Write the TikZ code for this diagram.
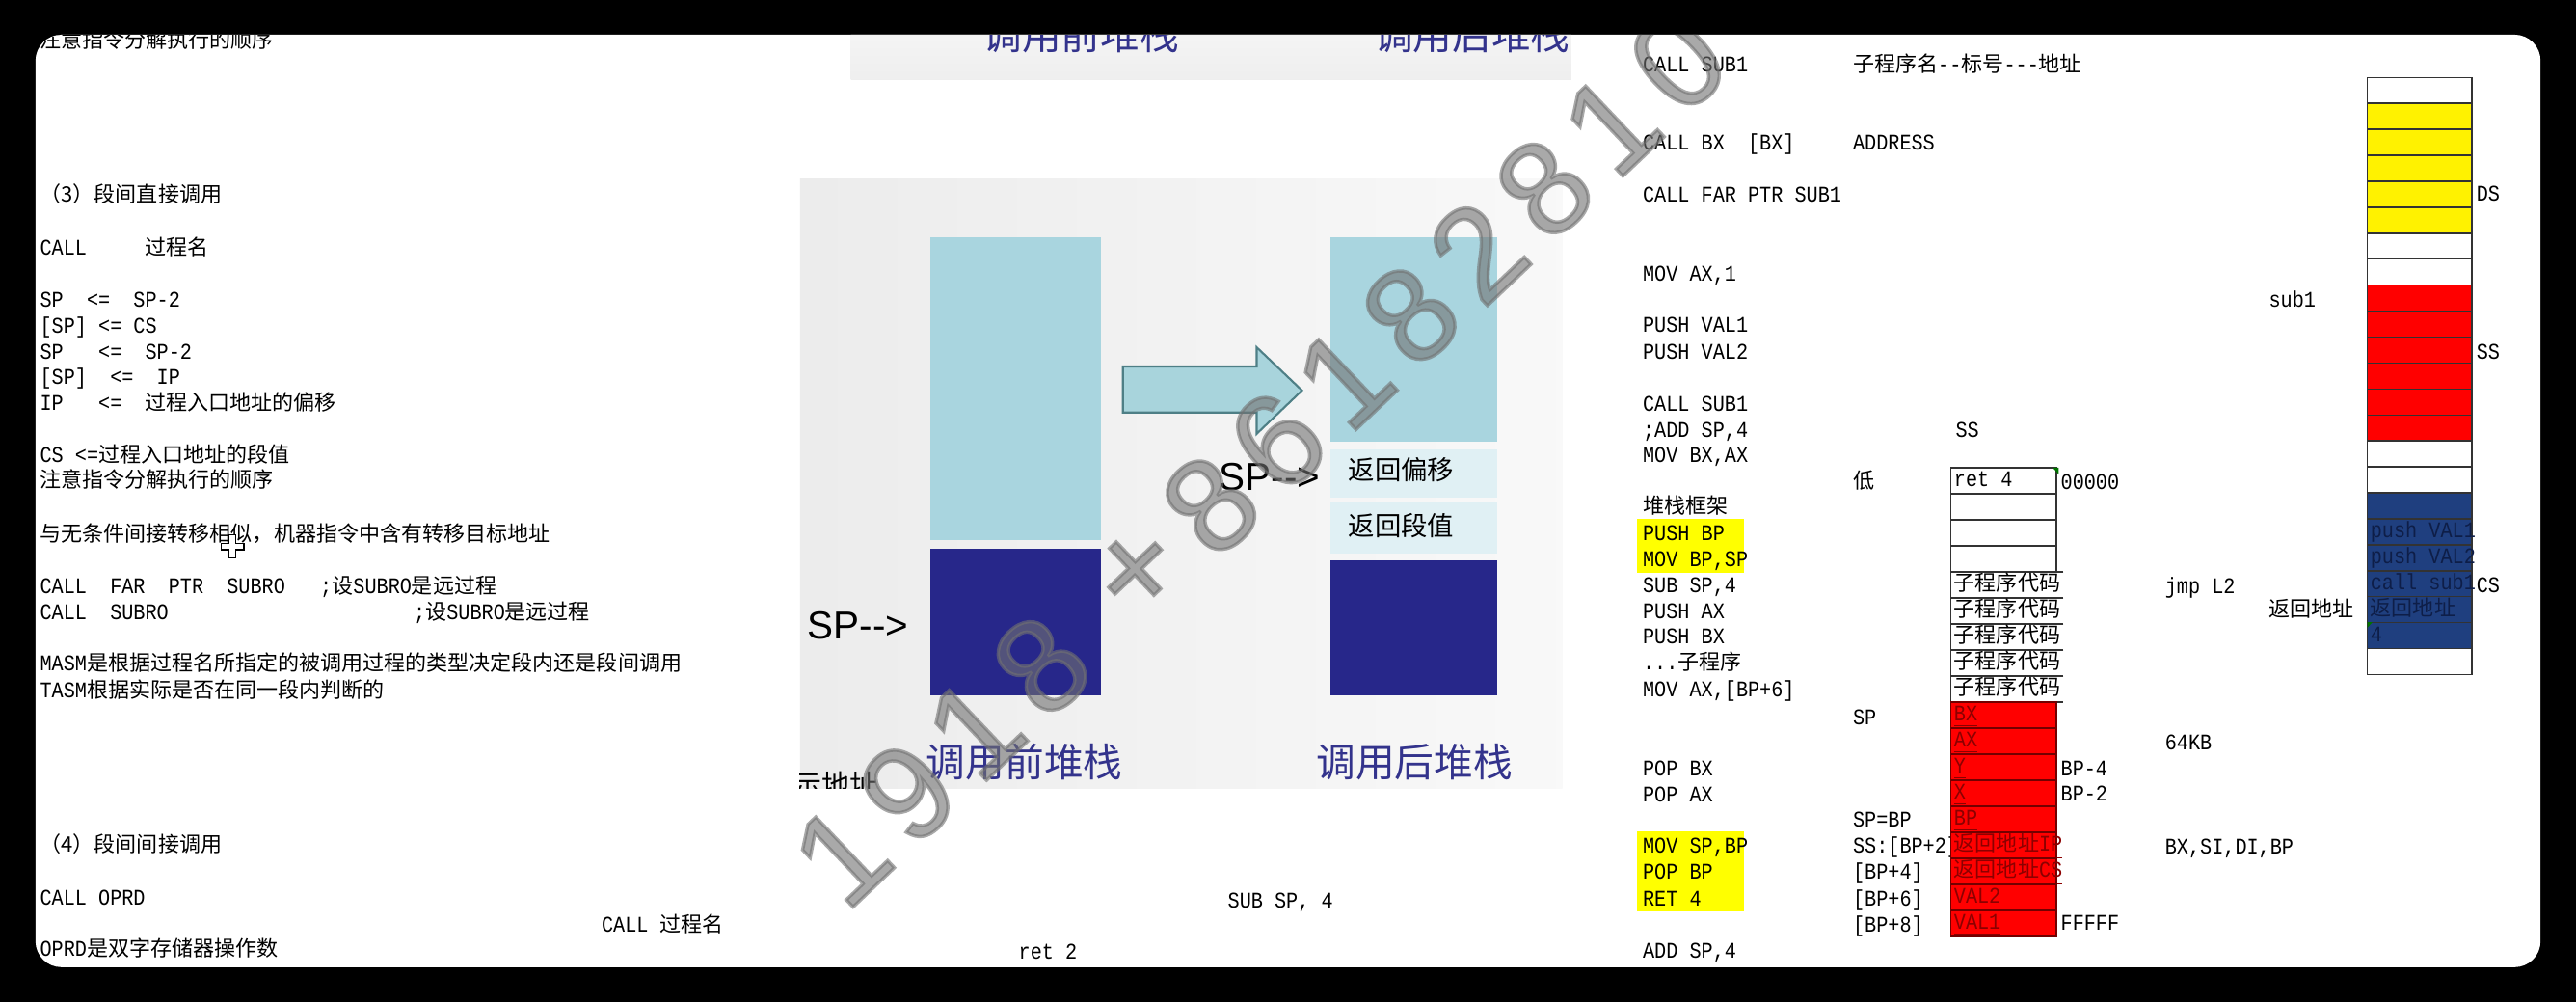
\documentclass[tikz,border=0pt]{standalone}
\usepackage{fontspec}
\setmonofont[FakeStretch=0.87]{Liberation Mono}
\newfontfamily\cjk[Scale=0.95]{Noto Sans CJK SC}
\newfontfamily\arialfont{Liberation Sans}
\newfontfamily\wmfont[FakeBold=2.5]{Liberation Sans}
\newcommand\zh[1]{{\cjk #1}}
\definecolor{lightbar}{HTML}{A9D5DF}
\definecolor{deepbar}{HTML}{27278A}
\definecolor{slotcyan}{HTML}{E0F0F4}
\definecolor{titleblue}{HTML}{33338C}
\definecolor{hiyellow}{HTML}{FFFF00}
\definecolor{cellyellow}{HTML}{FFF200}
\definecolor{cellred}{HTML}{FF0000}
\definecolor{cellnavy}{HTML}{1F3F7F}
\definecolor{navytext}{HTML}{0E1E48}
\definecolor{redtext}{HTML}{8C0000}
\definecolor{wmgray}{HTML}{717171}
\definecolor{arrowfill}{HTML}{A8D4DC}
\definecolor{arrowedge}{HTML}{4E7F86}

\begin{document}
\begin{tikzpicture}[x=0.1704mm, y=-0.1704mm,
  code/.style={font=\ttfamily\fontsize{6.6}{7.6}\selectfont, inner sep=0pt, anchor=west, text height=4.6pt, text depth=1.2pt},
  title/.style={font=\cjk\fontsize{12.2}{14}\selectfont, text=titleblue, inner sep=0pt, anchor=base},
  sptag/.style={font=\arialfont\fontsize{11.5}{13}\selectfont, inner sep=0pt, anchor=west},
  slot/.style={font=\cjk\fontsize{8.2}{9.5}\selectfont, inner sep=0pt, anchor=west},
  cellline/.style={draw=black!80, line width=0.4pt},
  wm/.style={font=\wmfont\fontsize{39}{44}\selectfont, text=wmgray, opacity=0.6, inner sep=0pt}
]
  \useasboundingbox (0,0) rectangle (1568,610);
  \fill[black] (0,0) rectangle (1568,610);
  \fill[white, rounded corners=2.7mm] (21.6,21.1) rectangle (1546.4,588.5);
  \begin{scope}
  \clip[rounded corners=2.7mm] (21.6,21.1) rectangle (1546.4,588.5);

  \node[code] (l1) at (24,25.4) {\zh{注意指令分解执行的顺序}};
  \node[code] (l2) at (24,119.3) {\zh{（3）段间直接调用}};
  \node[code] (l3) at (24,151.6) {CALL~~~~~\zh{过程名}};
  \node[code] (l4) at (24,183.5) {SP~~<=~~SP-2};
  \node[code] (l5) at (24,199.1) {[SP]~<=~CS};
  \node[code] (l6) at (24,214.8) {SP~~~<=~~SP-2};
  \node[code] (l7) at (24,230.4) {[SP]~~<=~~IP};
  \node[code] (l8) at (24,246.1) {IP~~~<=~~\zh{过程入口地址的偏移}};
  \node[code] (l9) at (24,277.8) {CS~<=\zh{过程入口地址的段值}};
  \node[code] (l10) at (24,293.4) {\zh{注意指令分解执行的顺序}};
  \node[code] (l11) at (24,325.8) {\zh{与无条件间接转移相似，机器指令中含有转移目标地址}};
  \filldraw[fill=white, draw=black, line width=0.35pt] (139.5,325.5) -- (143.5,325.5) -- (143.5,330.5) -- (148.5,330.5) -- (148.5,334.5) -- (143.5,334.5) -- (143.5,339.5) -- (139.5,339.5) -- (139.5,334.5) -- (134.5,334.5) -- (134.5,330.5) -- (139.5,330.5) -- cycle;
  \node[code] (l12) at (24,357.8) {CALL~~FAR~~PTR~~SUBRO~~~;\zh{设}SUBRO\zh{是远过程}};
  \node[code] (l13) at (24,373.3) {CALL~~SUBRO~~~~~~~~~~~~~~~~~~~~~;\zh{设}SUBRO\zh{是远过程}};
  \node[code] (l14) at (24,404.8) {MASM\zh{是根据过程名所指定的被调用过程的类型决定段内还是段间调用}};
  \node[code] (l15) at (24,420.8) {TASM\zh{根据实际是否在同一段内判断的}};
  \node[code] (l16) at (24,515) {\zh{（4）段间间接调用}};
  \node[code] (l17) at (24,547.4) {CALL OPRD};
  \node[code] (l18) at (365.8,563.4) {CALL \zh{过程名}};
  \node[code] (l19) at (24,578.6) {OPRD\zh{是双字存储器操作数}};
  \node[code] (l20) at (747,548.7) {SUB SP, 4};
  \node[code] (l21) at (619.7,580) {ret 2};

  \shade[top color=gray!5, bottom color=gray!13] (518,0) rectangle (956.5,48.2);
  \node[title] (before) at (658,30) {调用前堆栈};
  \node[title] (after) at (896,30) {调用后堆栈};
  \begin{scope}
  \clip (487,108.7) rectangle (951,479.5);
  \shade[left color=gray!15, right color=gray!5] (487,108.7) rectangle (951,479.5);
  \node[font=\cjk\fontsize{8.7}{10}\selectfont, anchor=base west, inner sep=0pt] (addr) at (483,484) {示地址};
  \end{scope}
  \fill[lightbar] (566.2,144.5) rectangle (670.2,328.7);
  \fill[deepbar] (566.2,334) rectangle (670.2,423.1);
  \fill[lightbar] (810,144.5) rectangle (911.6,269);
  \fill[slotcyan] (810,273.4) rectangle (911.6,302.9);
  \fill[slotcyan] (810,306) rectangle (911.6,337);
  \fill[deepbar] (810,341) rectangle (911.6,423.1);
  \node[sptag] (spold) at (491.3,380.5) {SP-{}-{}>};
  \node[sptag] (spnew) at (741.8,290.5) {SP-{}-{}>};
  \node[slot] (offset) at (820.4,285.8) {返回偏移};
  \node[slot] (segment) at (820.4,320) {返回段值};
  \filldraw[fill=arrowfill, draw=arrowedge, line width=0.6pt] (683.5,223) -- (764.9,223) -- (764.9,211.3) -- (792.5,237.6) -- (764.9,264) -- (764.9,251) -- (683.5,251) -- cycle;
  \node[title] (before2) at (623.6,472.5) {调用前堆栈};
  \node[title] (after2) at (861,472.5) {调用后堆栈};

  \fill[hiyellow] (996.4,315.9) rectangle (1061.8,348.6);
  \fill[hiyellow] (996.4,505.7) rectangle (1061.8,554.6);
  \node[code] (r1) at (999.6,40) {CALL SUB1};
  \node[code] (r1b) at (1127.5,40) {\zh{子程序名}--\zh{标号}---\zh{地址}};
  \node[code] (r2) at (999.6,88) {CALL BX~~[BX]};
  \node[code] (r2b) at (1127.5,88) {ADDRESS};
  \node[code] (r3) at (999.6,119.7) {CALL FAR PTR SUB1};
  \node[code] (r4) at (999.6,167.3) {MOV AX,1};
  \node[code] (r5) at (999.6,198.5) {PUSH VAL1};
  \node[code] (r6) at (999.6,214.8) {PUSH VAL2};
  \node[code] (r7) at (999.6,246.9) {CALL SUB1};
  \node[code] (r8) at (999.6,262.5) {;ADD SP,4};
  \node[code] (r9) at (999.6,277.8) {MOV BX,AX};
  \node[code] (r10) at (999.6,309.1) {\zh{堆栈框架}};
  \node[code] (r11) at (999.6,325.7) {PUSH BP};
  \node[code] (r12) at (999.6,341.4) {MOV BP,SP};
  \node[code] (r13) at (999.6,357) {SUB SP,4};
  \node[code] (r14) at (999.6,372.7) {PUSH AX};
  \node[code] (r15) at (999.6,388.3) {PUSH BX};
  \node[code] (r16) at (999.6,404) {...\zh{子程序}};
  \node[code] (r17) at (999.6,420.6) {MOV AX,[BP+6]};
  \node[code] (r18) at (999.6,468.5) {POP BX};
  \node[code] (r19) at (999.6,484.2) {POP AX};
  \node[code] (r20) at (999.6,515.5) {MOV SP,BP};
  \node[code] (r21) at (999.6,531.1) {POP BP};
  \node[code] (r22) at (999.6,547.7) {RET 4};
  \node[code] (r23) at (999.6,579.5) {ADD SP,4};
  \node[code] (ss) at (1190,262.5) {SS};
  \node[code] (low) at (1127.5,293.8) {\zh{低}};
  \node[code] (sp) at (1127.5,437.2) {SP};
  \node[code] (spbp) at (1127.5,499.8) {SP=BP};
  \node[code] (bp2) at (1127.5,515.5) {SS:[BP+2]};
  \node[code] (bp4) at (1127.5,531.1) {[BP+4]};
  \node[code] (bp6) at (1127.5,547.7) {[BP+6]};
  \node[code] (bp8) at (1127.5,563.4) {[BP+8]};

  \foreach \i in {0,...,3}
    \draw[cellline] (1187.5,{284.6+\i*15.85}) rectangle (1251.7,{300.45+\i*15.85});
  \node[code] (ret) at (1189,292.5) {ret 4};
  \fill[green!45!black] (1249.5,284.6) -- (1253,284.6) -- (1253,288.5) -- cycle;
  \foreach \i in {4,...,8} {
    \draw[cellline] (1256,{284.6+\i*15.85}) -- (1187.5,{284.6+\i*15.85}) -- (1187.5,{300.45+\i*15.85}) -- (1256,{300.45+\i*15.85});
    \node[code] (body\i) at (1189,{292.5+\i*15.85}) {\zh{子程序代码}};
  }
  \foreach \t [count=\i from 9] in {BX,AX,Y,X,BP,\zh{返回地址}IP,\zh{返回地址}CS,VAL2,VAL1} {
    \filldraw[fill=cellred, draw=red!45!black, line width=0.4pt] (1187.5,{284.6+\i*15.85}) rectangle (1251.7,{300.45+\i*15.85});
    \node[code, text=redtext] (frame\i) at (1189,{292.5+\i*15.85}) {\underline{\t}};
  }
  \node[code] (top) at (1254,294.4) {00000};
  \node[code] (bpm4) at (1254,468.5) {BP-4};
  \node[code] (bpm2) at (1254,484) {BP-2};
  \node[code] (bottom) at (1254,562.3) {FFFFF};
  \node[code] (jmp) at (1317.5,357.5) {jmp L2};
  \node[code] (kb) at (1317.5,452.9) {64KB};
  \node[code] (regs) at (1317.5,516.4) {BX,SI,DI,BP};
  \node[code] (sub) at (1380.7,183.4) {sub1};
  \node[code] (retaddr) at (1380.7,372) {\zh{返回地址}};

  \foreach \c [count=\i from 0] in {white,cellyellow,cellyellow,cellyellow,cellyellow,cellyellow,white,white,cellred,cellred,cellred,cellred,cellred,cellred,white,white,cellnavy,cellnavy,cellnavy,cellnavy,cellnavy,cellnavy,white}
    \filldraw[fill=\c, cellline] (1441,{47.1+\i*15.8}) rectangle (1504.7,{62.9+\i*15.8});
  \foreach \t [count=\i from 17] in {push VAL1,push VAL2,call sub1,\zh{返回地址},4}
    \node[code, text=navytext] (mem\i) at (1442.5,{55+\i*15.8}) {\t};
  \fill[green!45!black] (1441,378.6) -- (1444,378.6) -- (1441,382) -- cycle;
  \node[code] (ds) at (1507,119) {DS};
  \node[code] (sseg) at (1507,215) {SS};
  \node[code] (cs) at (1507,357) {CS};

  \foreach \d/\t [count=\k] in {1/0,9/56,1/112,8/168,+/250,8/310,6/366,1/422,8/478,2/534,8/590,1/646,0/702}
    \node[wm, rotate=43.5] (wm\k) at ({512+0.7254*\t},{520.6-0.6884*\t}) {\d};
  \end{scope}
\end{tikzpicture}
\end{document}
